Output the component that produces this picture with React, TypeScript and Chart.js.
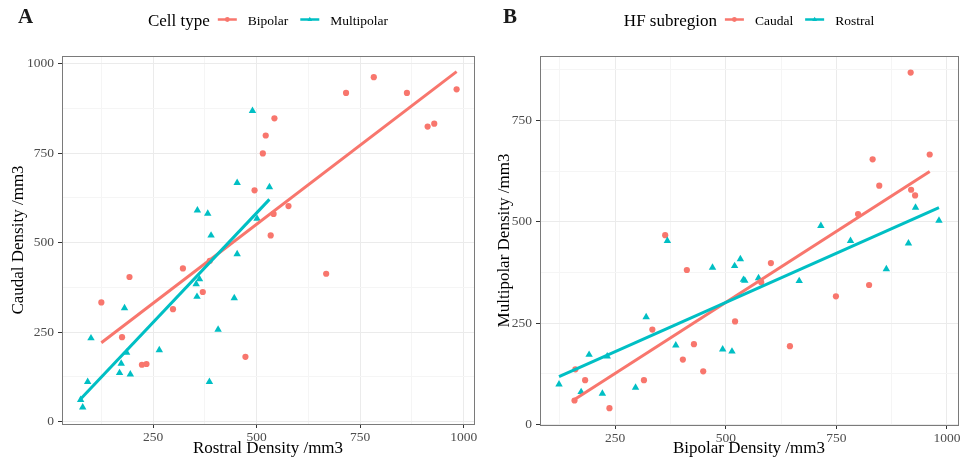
import React, { useEffect, useRef } from "react";
import { Chart, registerables } from "chart.js";

Chart.register(...registerables);

const PINK = "#F8766D";
const CYAN = "#00BFC4";
const FONT = '"Liberation Serif", "Times New Roman", Times, serif';

// ---------- Panel A : Rostral vs Caudal density, by cell type ----------
const bipolarRostral = [543, 522, 515, 495, 716, 783, 863, 983, 913, 929, 577, 541, 534, 322, 370, 193, 125, 298, 175, 473, 223, 234, 668, 387];
const bipolarCaudal = [847, 799, 749, 646, 918, 962, 918, 928, 824, 832, 602, 580, 520, 428, 362, 404, 333, 314, 236, 181, 159, 161, 413, 449];
const multipolarRostral = [490, 453, 531, 357, 382, 390, 501, 453, 362, 354, 356, 446, 181, 407, 100, 265, 186, 173, 169, 195, 92, 386, 75, 80];
const multipolarCaudal = [868, 667, 655, 590, 581, 520, 567, 468, 398, 384, 349, 345, 317, 257, 233, 200, 193, 162, 136, 132, 111, 111, 61, 40];

// ---------- Panel B : Bipolar vs Multipolar density, by HF subregion ----------
const caudalBipolar = [918, 961, 832, 847, 919, 928, 799, 363, 412, 580, 602, 334, 521, 428, 403, 449, 160, 182, 315, 158, 237, 824, 749, 645];
const caudalMultipolar = [868, 666, 654, 589, 579, 565, 519, 467, 381, 351, 398, 234, 254, 198, 160, 131, 136, 109, 109, 59, 40, 344, 316, 193];
const rostralBipolar = [368, 470, 520, 533, 540, 574, 320, 387, 493, 514, 191, 232, 123, 173, 221, 296, 782, 913, 863, 666, 929, 982, 715, 543];
const rostralMultipolar = [453, 387, 391, 408, 357, 361, 265, 195, 185, 180, 172, 168, 99, 80, 76, 91, 453, 447, 383, 354, 535, 503, 490, 355];

// ---------- tick labels ----------
const xTicksA = [250, 500, 750, 1000];
const yTicksA = [0, 250, 500, 750, 1000];
const xTicksB = [250, 500, 750, 1000];
const yTicksB = [0, 250, 500, 750];
const MINOR_STEP = 125;

function toPoints(xs: number[], ys: number[]) {
  return xs.map((x, i) => ({ x, y: ys[i] }));
}

function fitLine(xs: number[], ys: number[]) {
  const n = xs.length;
  const mx = xs.reduce((a, b) => a + b, 0) / n;
  const my = ys.reduce((a, b) => a + b, 0) / n;
  let sxy = 0;
  let sxx = 0;
  for (let i = 0; i < n; i++) {
    sxy += (xs[i] - mx) * (ys[i] - my);
    sxx += (xs[i] - mx) * (xs[i] - mx);
  }
  const b = sxy / sxx;
  const a = my - b * mx;
  const lo = Math.min(...xs);
  const hi = Math.max(...xs);
  return [
    { x: lo, y: a + b * lo },
    { x: hi, y: a + b * hi },
  ];
}

interface PanelSpec {
  letter: string;
  letterX: number;
  legendTitle: string;
  labels: [string, string];
  xTitle: string;
  yTitle: string;
  x1: number[];
  y1: number[];
  x2: number[];
  y2: number[];
  xMin: number;
  xMax: number;
  yMin: number;
  yMax: number;
  xTicks: number[];
  yTicks: number[];
  yAxisWidth: number;
  xAxisHeight: number;
  padRight: number;
  yTitlePad: number;
  xTitlePad: number;
  width: number;
}

function makeScale(
  min: number,
  max: number,
  major: number[],
  titleText: string,
  isY: boolean,
  titlePad: number,
  size: number
) {
  return {
    type: "linear" as const,
    min,
    max,
    afterBuildTicks: (s: any) => {
      const t: { value: number }[] = [];
      for (let v = Math.ceil(min / MINOR_STEP) * MINOR_STEP; v <= max; v += MINOR_STEP) t.push({ value: v });
      s.ticks = t;
    },
    afterFit: (s: any) => {
      if (isY) s.width = size;
      else s.height = size;
    },
    grid: {
      color: (ctx: any) => (major.includes(ctx.tick?.value) ? "#EBEBEB" : "#F5F5F5"),
      lineWidth: 1,
      tickColor: (ctx: any) => (major.includes(ctx.tick?.value) ? "#333333" : "rgba(0,0,0,0)"),
      tickLength: 4,
      drawTicks: true,
      drawOnChartArea: true,
    },
    border: { display: false },
    ticks: {
      autoSkip: false,
      maxRotation: 0,
      minRotation: 0,
      padding: isY ? 4 : 1,
      color: "#4D4D4D",
      font: { size: 13.5, family: FONT },
      callback: (v: any) => (major.includes(Number(v)) ? String(v) : ""),
    },
    title: {
      display: true,
      text: titleText,
      color: "#000000",
      font: { size: 17, family: FONT },
      padding: isY ? { top: titlePad, bottom: 0 } : { top: 0, bottom: titlePad },
    },
  };
}

function makeDecor(spec: PanelSpec) {
  return {
    id: "decor",
    afterDraw(chart: any) {
      const { ctx, chartArea } = chart;
      const { left, right, top, bottom } = chartArea;
      ctx.save();
      // panel border
      ctx.lineWidth = 1;
      ctx.strokeStyle = "#7A7A7A";
      const L = Math.round(left - 0.5) + 0.5;
      const R = Math.round(right - 0.5) + 0.5;
      const T = Math.round(top - 0.5) + 0.5;
      const B = Math.round(bottom - 0.5) + 0.5;
      ctx.strokeRect(L, T, R - L, B - T);

      // panel letter
      ctx.fillStyle = "#1A1A1A";
      ctx.font = `bold 21px ${FONT}`;
      ctx.textBaseline = "alphabetic";
      ctx.textAlign = "left";
      ctx.fillText(spec.letter, spec.letterX, 23);

      // legend
      ctx.font = `17px ${FONT}`;
      const tw = ctx.measureText(spec.legendTitle).width;
      ctx.font = `13.5px ${FONT}`;
      const w1 = ctx.measureText(spec.labels[0]).width;
      const w2 = ctx.measureText(spec.labels[1]).width;
      const keyW = 19;
      const gapTK = 8;
      const gapKL = 11;
      const gapLK = 12;
      const total = tw + gapTK + keyW + gapKL + w1 + gapLK + keyW + gapKL + w2;
      let x = (left + right) / 2 - total / 2;
      const keyY = 19.5;

      ctx.fillStyle = "#000000";
      ctx.font = `17px ${FONT}`;
      ctx.fillText(spec.legendTitle, x, 25.5);
      x += tw + gapTK;

      const drawKey = (kx: number, color: string, tri: boolean) => {
        ctx.strokeStyle = color;
        ctx.lineWidth = 2.5;
        ctx.beginPath();
        ctx.moveTo(kx, keyY);
        ctx.lineTo(kx + keyW, keyY);
        ctx.stroke();
        ctx.fillStyle = color;
        const cx = kx + keyW / 2;
        ctx.beginPath();
        if (tri) {
          const r = 2.8;
          ctx.moveTo(cx, keyY - r);
          ctx.lineTo(cx + r * 0.866, keyY + r * 0.5);
          ctx.lineTo(cx - r * 0.866, keyY + r * 0.5);
          ctx.closePath();
        } else {
          ctx.arc(cx, keyY, 2.4, 0, Math.PI * 2);
        }
        ctx.fill();
      };

      drawKey(x, PINK, false);
      x += keyW + gapKL;
      ctx.fillStyle = "#000000";
      ctx.font = `13.5px ${FONT}`;
      ctx.fillText(spec.labels[0], x, 24.5);
      x += w1 + gapLK;
      drawKey(x, CYAN, true);
      x += keyW + gapKL;
      ctx.fillStyle = "#000000";
      ctx.font = `13.5px ${FONT}`;
      ctx.fillText(spec.labels[1], x, 24.5);
      ctx.restore();
    },
  };
}

function buildConfig(spec: PanelSpec): any {
  return {
    type: "scatter",
    data: {
      datasets: [
        {
          label: spec.labels[1] + " fit",
          data: fitLine(spec.x2, spec.y2),
          showLine: true,
          borderColor: CYAN,
          borderWidth: 3,
          pointRadius: 0,
          fill: false,
        },
        {
          label: spec.labels[0] + " fit",
          data: fitLine(spec.x1, spec.y1),
          showLine: true,
          borderColor: PINK,
          borderWidth: 3,
          pointRadius: 0,
          fill: false,
        },
        {
          label: spec.labels[1],
          data: toPoints(spec.x2, spec.y2),
          pointStyle: "triangle",
          pointRadius: 4.3,
          backgroundColor: CYAN,
          borderColor: CYAN,
          pointBorderWidth: 0,
          borderWidth: 0,
        },
        {
          label: spec.labels[0],
          data: toPoints(spec.x1, spec.y1),
          pointStyle: "circle",
          pointRadius: 3.1,
          backgroundColor: PINK,
          borderColor: PINK,
          pointBorderWidth: 0,
          borderWidth: 0,
        },
      ],
    },
    options: {
      responsive: false,
      maintainAspectRatio: false,
      animation: false,
      devicePixelRatio: 1,
      events: [],
      layout: { padding: { top: 56, right: spec.padRight, bottom: 0, left: 0 } },
      plugins: {
        legend: { display: false },
        tooltip: { enabled: false },
        title: { display: false },
      },
      scales: {
        x: makeScale(spec.xMin, spec.xMax, spec.xTicks, spec.xTitle, false, spec.xTitlePad, spec.xAxisHeight),
        y: makeScale(spec.yMin, spec.yMax, spec.yTicks, spec.yTitle, true, spec.yTitlePad, spec.yAxisWidth),
      },
    },
    plugins: [makeDecor(spec)],
  };
}

const specA: PanelSpec = {
  letter: "A",
  letterX: 18,
  legendTitle: "Cell type",
  labels: ["Bipolar", "Multipolar"],
  xTitle: "Rostral Density /mm3",
  yTitle: "Caudal Density /mm3",
  x1: bipolarRostral,
  y1: bipolarCaudal,
  x2: multipolarRostral,
  y2: multipolarCaudal,
  xMin: 30,
  xMax: 1025,
  yMin: -6.5,
  yMax: 1021,
  xTicks: xTicksA,
  yTicks: yTicksA,
  yAxisWidth: 62,
  xAxisHeight: 45,
  padRight: 8,
  yTitlePad: 8,
  xTitlePad: 10,
  width: 482,
};

const specB: PanelSpec = {
  letter: "B",
  letterX: 21,
  legendTitle: "HF subregion",
  labels: ["Caudal", "Rostral"],
  xTitle: "Bipolar Density /mm3",
  yTitle: "Multipolar Density /mm3",
  x1: caudalBipolar,
  y1: caudalMultipolar,
  x2: rostralBipolar,
  y2: rostralMultipolar,
  xMin: 80,
  xMax: 1025,
  yMin: -1.5,
  yMax: 909,
  xTicks: xTicksB,
  yTicks: yTicksB,
  yAxisWidth: 58,
  xAxisHeight: 44,
  padRight: 7,
  yTitlePad: 12,
  xTitlePad: 10,
  width: 483,
};

function Panel({ spec, left }: { spec: PanelSpec; left: number }) {
  const ref = useRef<HTMLCanvasElement>(null);
  useEffect(() => {
    if (!ref.current) return;
    const chart = new Chart(ref.current, buildConfig(spec));
    return () => chart.destroy();
  }, [spec]);
  return (
    <canvas
      ref={ref}
      width={spec.width}
      height={469}
      style={{ position: "absolute", left, top: 0, width: spec.width, height: 469, display: "block" }}
    />
  );
}

export default function App() {
  return (
    <div style={{ position: "absolute", left: 0, top: 0, width: 965, height: 469, background: "#FFFFFF", overflow: "hidden" }}>
      <Panel spec={specA} left={0} />
      <Panel spec={specB} left={482} />
    </div>
  );
}
